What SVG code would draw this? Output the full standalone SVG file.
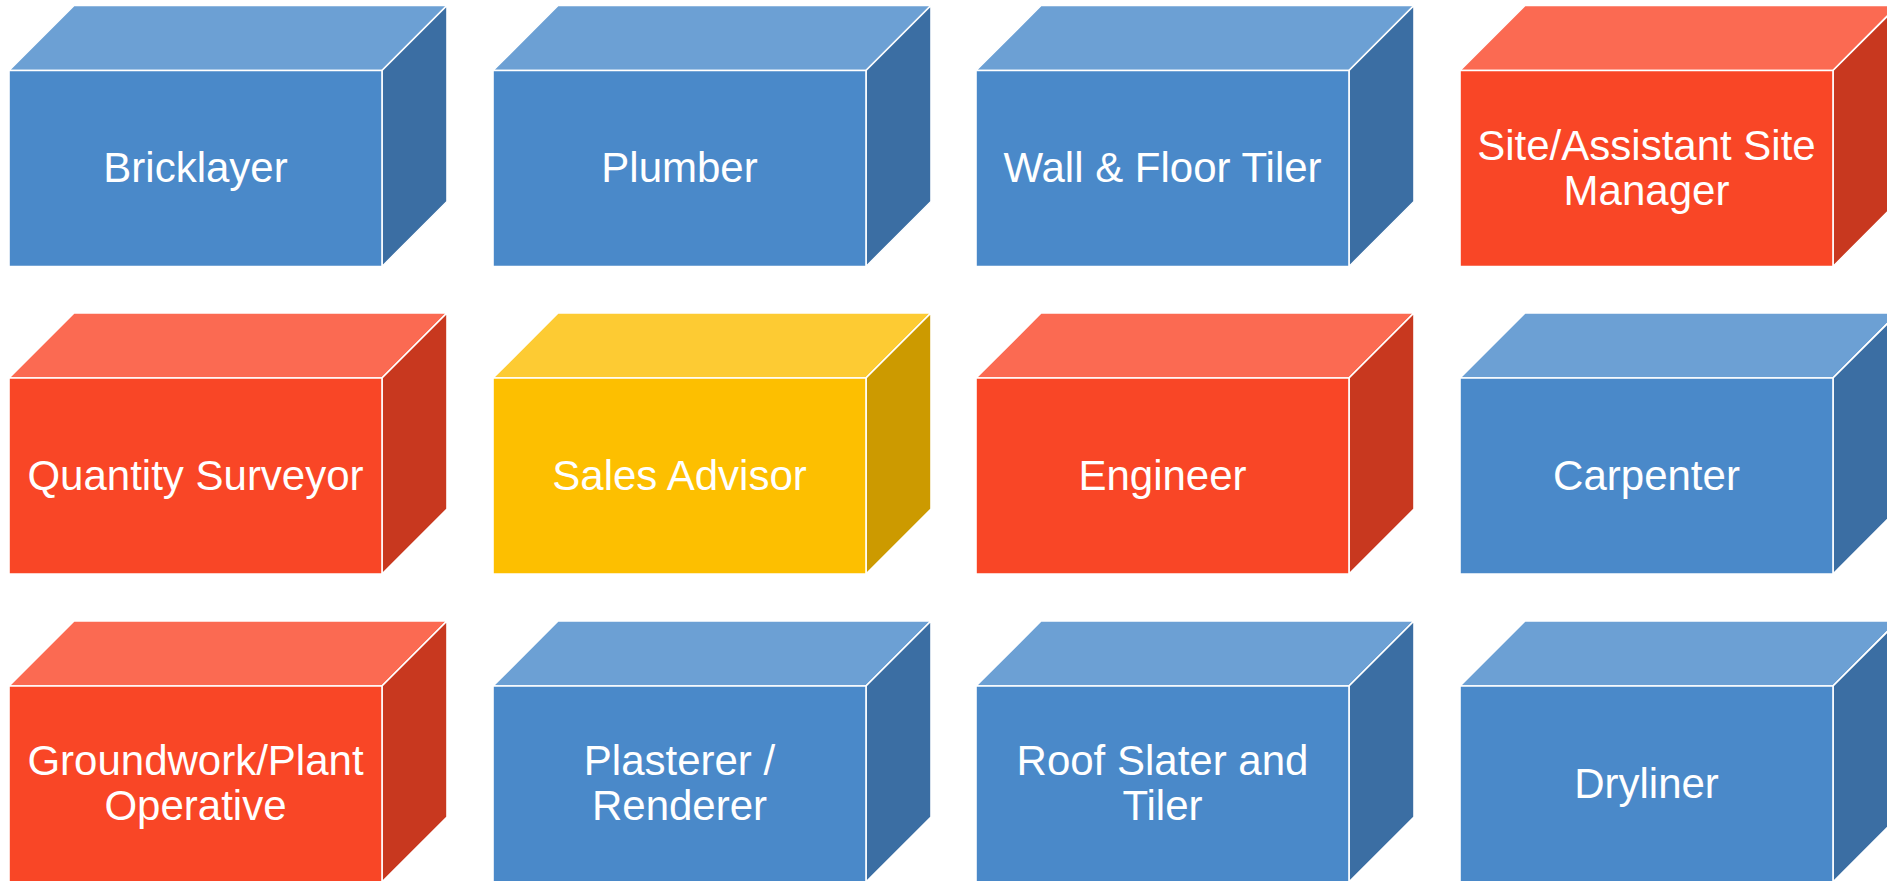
<svg xmlns="http://www.w3.org/2000/svg" width="1887" height="881" viewBox="0 0 1887 881">
<style>
.f,.t,.s{stroke:#ffffff;stroke-width:1.6;stroke-linejoin:round}
.blue .f{fill:#4a89c9}.blue .t{fill:#6ca0d4}.blue .s{fill:#3b6ea3}
.red .f{fill:#f94626}.red .t{fill:#fb6a52}.red .s{fill:#c8381f}
.yel .f{fill:#fdbf00}.yel .t{fill:#fdcb33}.yel .s{fill:#cc9a00}
text{font-family:"Liberation Sans",Arial,sans-serif;font-size:42px;fill:#ffffff;text-anchor:middle}
</style>
<rect width="1887" height="881" fill="#ffffff"/>
<g id="bricklayer" class="blue" transform="translate(9,70.5)"><polygon class="t" points="0,0 65,-65 438,-65 373,0"/><polygon class="s" points="373,0 438,-65 438,131 373,196"/><rect class="f" width="373" height="196"/><text x="186.5" y="111.5">Bricklayer</text></g>
<g id="plumber" class="blue" transform="translate(493,70.5)"><polygon class="t" points="0,0 65,-65 438,-65 373,0"/><polygon class="s" points="373,0 438,-65 438,131 373,196"/><rect class="f" width="373" height="196"/><text x="186.5" y="111.5">Plumber</text></g>
<g id="tiler" class="blue" transform="translate(976,70.5)"><polygon class="t" points="0,0 65,-65 438,-65 373,0"/><polygon class="s" points="373,0 438,-65 438,131 373,196"/><rect class="f" width="373" height="196"/><text x="186.5" y="111.5">Wall &amp; Floor Tiler</text></g>
<g id="sitemanager" class="red" transform="translate(1460,70.5)"><polygon class="t" points="0,0 65,-65 438,-65 373,0"/><polygon class="s" points="373,0 438,-65 438,131 373,196"/><rect class="f" width="373" height="196"/><text x="186.5" y="89">Site/Assistant Site</text><text x="186.5" y="134">Manager</text></g>
<g id="qs" class="red" transform="translate(9,378)"><polygon class="t" points="0,0 65,-65 438,-65 373,0"/><polygon class="s" points="373,0 438,-65 438,131 373,196"/><rect class="f" width="373" height="196"/><text x="186.5" y="111.5">Quantity Surveyor</text></g>
<g id="sales" class="yel" transform="translate(493,378)"><polygon class="t" points="0,0 65,-65 438,-65 373,0"/><polygon class="s" points="373,0 438,-65 438,131 373,196"/><rect class="f" width="373" height="196"/><text x="186.5" y="111.5">Sales Advisor</text></g>
<g id="engineer" class="red" transform="translate(976,378)"><polygon class="t" points="0,0 65,-65 438,-65 373,0"/><polygon class="s" points="373,0 438,-65 438,131 373,196"/><rect class="f" width="373" height="196"/><text x="186.5" y="111.5">Engineer</text></g>
<g id="carpenter" class="blue" transform="translate(1460,378)"><polygon class="t" points="0,0 65,-65 438,-65 373,0"/><polygon class="s" points="373,0 438,-65 438,131 373,196"/><rect class="f" width="373" height="196"/><text x="186.5" y="111.5">Carpenter</text></g>
<g id="groundwork" class="red" transform="translate(9,686)"><polygon class="t" points="0,0 65,-65 438,-65 373,0"/><polygon class="s" points="373,0 438,-65 438,131 373,196"/><rect class="f" width="373" height="196"/><text x="186.5" y="89">Groundwork/Plant</text><text x="186.5" y="134">Operative</text></g>
<g id="plasterer" class="blue" transform="translate(493,686)"><polygon class="t" points="0,0 65,-65 438,-65 373,0"/><polygon class="s" points="373,0 438,-65 438,131 373,196"/><rect class="f" width="373" height="196"/><text x="186.5" y="89">Plasterer /</text><text x="186.5" y="134">Renderer</text></g>
<g id="roofer" class="blue" transform="translate(976,686)"><polygon class="t" points="0,0 65,-65 438,-65 373,0"/><polygon class="s" points="373,0 438,-65 438,131 373,196"/><rect class="f" width="373" height="196"/><text x="186.5" y="89">Roof Slater and</text><text x="186.5" y="134">Tiler</text></g>
<g id="dryliner" class="blue" transform="translate(1460,686)"><polygon class="t" points="0,0 65,-65 438,-65 373,0"/><polygon class="s" points="373,0 438,-65 438,131 373,196"/><rect class="f" width="373" height="196"/><text x="186.5" y="111.5">Dryliner</text></g>
<g id="connectors"></g>
</svg>
